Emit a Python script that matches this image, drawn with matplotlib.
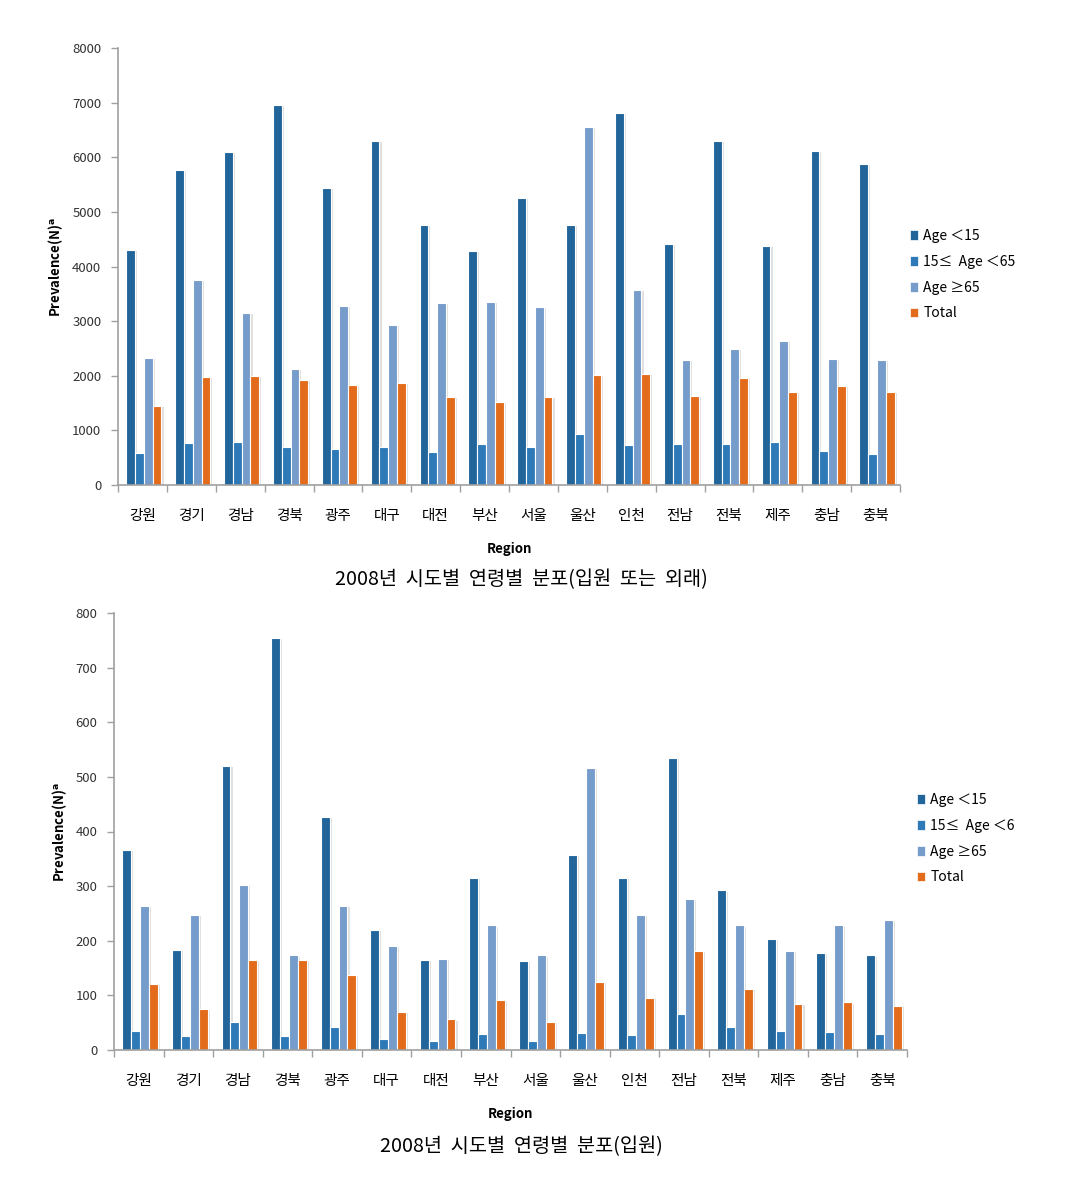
import numpy as np
import matplotlib
matplotlib.use("Agg")
import matplotlib.pyplot as plt
import matplotlib.patheffects as pe
from matplotlib.patches import Patch

plt.rcParams['font.family'] = ['Noto Sans CJK KR', 'DejaVu Sans']

regions = ['강원', '경기', '경남', '경북', '광주', '대구', '대전', '부산',
           '서울', '울산', '인천', '전남', '전북', '제주', '충남', '충북']

# 2008, inpatient or outpatient
all_lt15 = [4310, 5770, 6100, 6960, 5440, 6300, 4760, 4290,
            5255, 4760, 6810, 4414, 6300, 4377, 6115, 5875]
all_15_65 = [580, 769, 788, 702, 665, 702, 604, 745,
             702, 934, 727, 745, 745, 788, 628, 562]
all_ge65 = [2326, 3760, 3145, 2119, 3284, 2936, 3328, 3352,
            3266, 6557, 3571, 2284, 2491, 2632, 2308, 2284]
all_total = [1447, 1978, 2002, 1917, 1831, 1874, 1606, 1526,
             1606, 2015, 2033, 1630, 1960, 1709, 1813, 1709]

# 2008, inpatient
inp_lt15 = [366, 183, 520, 755, 427, 220, 165, 315,
            163, 357, 315, 534, 292, 204, 177, 173]
inp_15_65 = [35, 25, 52, 25, 42, 21, 17, 29,
             17, 31, 28, 66, 42, 35, 33, 29]
inp_ge65 = [263, 248, 302, 173, 263, 191, 167, 228,
            173, 517, 247, 277, 228, 181, 228, 238]
inp_total = [121, 75, 165, 165, 138, 70, 56, 91,
             52, 124, 95, 181, 112, 85, 87, 80]

labels_top = ['Age ＜15', '15≤  Age ＜65', 'Age ≥65', 'Total']
labels_bot = ['Age ＜15', '15≤  Age ＜6', 'Age ≥65', 'Total']
colors = ['#21659B', '#2E7AB8', '#759CCB', '#E36C1C']

W, H = 1068, 1181
fig = plt.figure(figsize=(W / 100, H / 100), dpi=100)

shadow = [pe.SimplePatchShadow(offset=(1.5, -0.8), shadow_rgbFace='#9a9a9a', alpha=0.3),
          pe.Normal()]


def draw(ax_box, series, ymax, ystep, labels, legend_xy, caption, cap_y):
    l, t, r, b = ax_box
    ax = fig.add_axes([l / W, 1 - b / H, (r - l) / W, (b - t) / H])
    x = np.arange(len(regions))
    bw = 0.18
    for i, vals in enumerate(series):
        ax.bar(x + 0.03 + (i - 1.5) * bw, vals, bw, color=colors[i],
               edgecolor='white', linewidth=0.8, path_effects=shadow, zorder=2)
    ax.set_xlim(-0.5, len(regions) - 0.5)
    ax.set_ylim(0, ymax)
    ax.set_yticks(np.arange(0, ymax + 1, ystep))
    ax.set_xticks(np.arange(-0.5, len(regions), 1.0))
    ax.set_xticklabels([])
    ax.set_xticks(x, minor=True)
    ax.set_xticklabels(regions, minor=True, fontsize=10.5)
    ax.tick_params(axis='x', which='minor', length=0, pad=17)
    ax.tick_params(axis='x', which='major', length=5, color='#A0A0A0', width=1)
    ax.tick_params(axis='y', length=5, color='#A0A0A0', width=1, labelsize=9.5,
                   labelcolor='#333333', pad=7)
    for s in ['top', 'right']:
        ax.spines[s].set_visible(False)
    for s in ['left', 'bottom']:
        ax.spines[s].set_color('#A0A0A0')
        ax.spines[s].set_linewidth(1.2)
    ax.set_xlabel('Region', fontsize=9.5, fontweight='bold', labelpad=14)
    ax.set_ylabel(r'Prevalence(N)$^{\mathbf{a}}$', fontsize=9.5, fontweight='bold', labelpad=5)
    handles = [Patch(facecolor=c, edgecolor='white', linewidth=0.5) for c in colors]
    fig.legend(handles, labels, loc='upper left',
               bbox_to_anchor=(legend_xy[0] / W, 1 - legend_xy[1] / H),
               frameon=False, fontsize=10, handlelength=0.6, handleheight=0.7,
               handletextpad=0.35, labelspacing=0.85, borderpad=0, borderaxespad=0)
    fig.text(521 / W, 1 - cap_y / H, caption, ha='center', va='center', fontsize=14.2)
    return ax


draw((118, 48, 900, 485), [all_lt15, all_15_65, all_ge65, all_total], 8000, 1000,
     labels_top, (910, 229), '2008년  시도별  연령별  분포(입원  또는  외래)', 580)
draw((114, 613, 907, 1050), [inp_lt15, inp_15_65, inp_ge65, inp_total], 800, 100,
     labels_bot, (917, 793), '2008년  시도별  연령별  분포(입원)', 1147)

fig.savefig('out.png', dpi=100)
